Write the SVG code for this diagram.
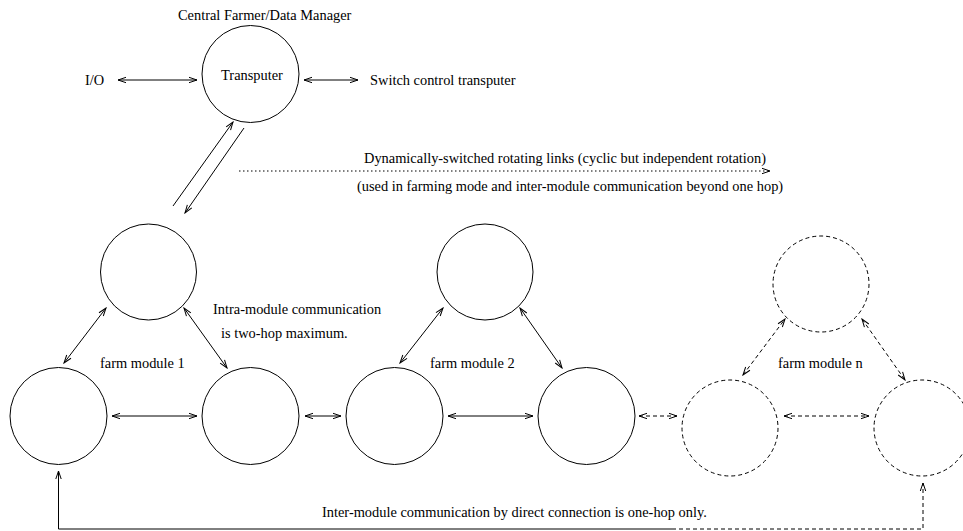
<svg xmlns="http://www.w3.org/2000/svg" width="963" height="531" viewBox="0 0 963 531">
<style>
text{font-family:"Liberation Serif","Times New Roman",serif;font-size:14.4px;fill:#000}
.n{fill:none;stroke:#000;stroke-width:1}
.d{fill:none;stroke:#000;stroke-width:1;stroke-dasharray:4 3}
.c{fill:none;stroke:#000;stroke-width:1}
.cd{fill:none;stroke:#000;stroke-width:1;stroke-dasharray:4 3}
.dot{fill:none;stroke:#000;stroke-width:1;stroke-dasharray:1.5 2.5}
</style>
<defs>
<marker id="ah" viewBox="0 0 10 8" refX="9" refY="4" markerWidth="10" markerHeight="8" markerUnits="userSpaceOnUse" orient="auto-start-reverse">
<path d="M1,1.3 L9,4 L1,6.7" fill="none" stroke="#000" stroke-width="1"/>
</marker>
</defs>
<rect width="963" height="531" fill="#fff"/>
<g id="transputer">
<circle class="c" cx="250.5" cy="74" r="48.5"/>
<text x="252" y="80" text-anchor="middle">Transputer</text>
<text x="178" y="20">Central Farmer/Data Manager</text>
</g>
<g id="io"><text x="85" y="85">I/O</text></g>
<g id="switch"><text x="370" y="85">Switch control transputer</text></g>
<g id="m1top"><circle class="c" cx="148.5" cy="272" r="48"/></g>
<g id="m1left"><circle class="c" cx="58.5" cy="416" r="48.5"/></g>
<g id="m1right"><circle class="c" cx="250.5" cy="416" r="48.5"/></g>
<g id="m2top"><circle class="c" cx="485" cy="272" r="48"/></g>
<g id="m2left"><circle class="c" cx="394.5" cy="416" r="48.5"/></g>
<g id="m2right"><circle class="c" cx="586.5" cy="416" r="48.5"/></g>
<g id="mntop"><circle class="cd" cx="821" cy="284" r="48"/></g>
<g id="mnleft"><circle class="cd" cx="730" cy="428" r="48"/></g>
<g id="mnright"><circle class="cd" cx="922" cy="428" r="48"/></g>
<g id="labels">
<text x="364" y="163">Dynamically-switched rotating links (cyclic but independent rotation)</text>
<text x="357" y="191">(used in farming mode and inter-module communication beyond one hop)</text>
<text x="213" y="314">Intra-module communication</text>
<text x="221" y="338">is two-hop maximum.</text>
<text x="100" y="368">farm module 1</text>
<text x="430" y="368">farm module 2</text>
<text x="778" y="368">farm module n</text>
<text x="322" y="517">Inter-module communication by direct connection is one-hop only.</text>
</g>
<g id="connectors">
<path class="n" d="M118,80 L197,80" marker-start="url(#ah)" marker-end="url(#ah)"/>
<path class="n" d="M304,80 L358,80" marker-start="url(#ah)" marker-end="url(#ah)"/>
<path class="n" d="M173,206 L233,122" marker-end="url(#ah)"/>
<path class="n" d="M244,128 L185,213" marker-end="url(#ah)"/>
<path class="dot" d="M239,171 L770,171" marker-end="url(#ah)"/>
<path class="n" d="M64,363 L106,308" marker-start="url(#ah)" marker-end="url(#ah)"/>
<path class="n" d="M184,308 L227,368" marker-start="url(#ah)" marker-end="url(#ah)"/>
<path class="n" d="M112,416 L197,416" marker-start="url(#ah)" marker-end="url(#ah)"/>
<path class="n" d="M305,416 L341,416" marker-start="url(#ah)" marker-end="url(#ah)"/>
<path class="n" d="M400,363 L443,308" marker-start="url(#ah)" marker-end="url(#ah)"/>
<path class="n" d="M520,308 L562,368" marker-start="url(#ah)" marker-end="url(#ah)"/>
<path class="n" d="M448,416 L533,416" marker-start="url(#ah)" marker-end="url(#ah)"/>
<path class="d" d="M639,416 L677,416" marker-start="url(#ah)" marker-end="url(#ah)"/>
<path class="d" d="M743,375 L785,319" marker-start="url(#ah)" marker-end="url(#ah)"/>
<path class="d" d="M862,319 L905,380" marker-start="url(#ah)" marker-end="url(#ah)"/>
<path class="d" d="M784,416 L869,416" marker-start="url(#ah)" marker-end="url(#ah)"/>
<path class="n" d="M672,529 L58.5,529 L58.5,471" marker-end="url(#ah)"/>
<path class="d" d="M672,529 L923,529 L923,483" marker-end="url(#ah)"/>
</g>
</svg>
